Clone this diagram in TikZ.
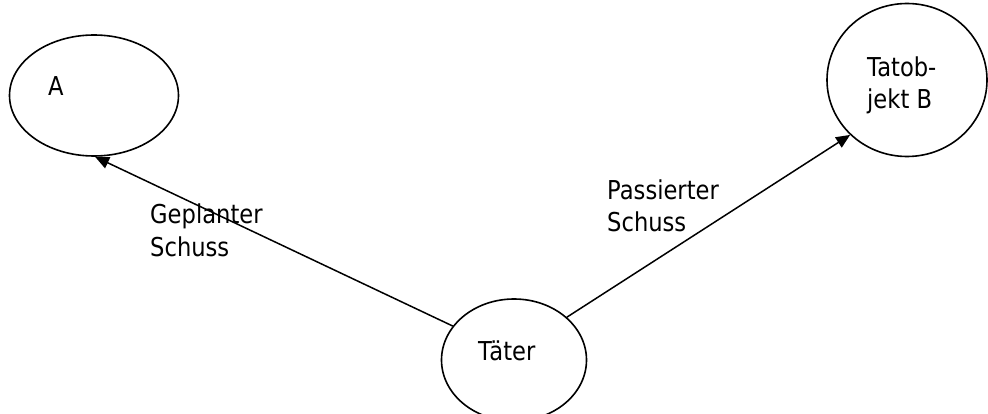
\documentclass[tikz,border=0pt]{standalone}
\usepackage{fontspec}
\setmainfont{DejaVu Sans}[FakeStretch=0.87]
\usetikzlibrary{shapes.geometric,arrows.meta}
\begin{document}
\begin{tikzpicture}[x=1pt,y=-1pt,
  blob/.style={draw,ellipse,line width=1.6pt,inner sep=0pt},
  txt/.style={inner sep=0pt,font=\fontsize{26}{32.5}\selectfont,align=left},
  conn/.style={line width=1.5pt,-{Triangle[length=14pt,width=12pt]}}]
\useasboundingbox (0,0) rectangle (988,414);
\node[blob,minimum width=169pt,minimum height=121pt] (A) at (94,95.5) {};
\node[blob,minimum width=160pt,minimum height=153pt] (B) at (907,80) {};
\node[blob,minimum width=145pt,minimum height=122pt] (T) at (514,360) {};
\node[txt,anchor=base west] (tA) at (48,96) {A};
\node[txt,anchor=base west] (tB) at (867,109) {Tatob-\\jekt B};
\node[txt,anchor=base west] (tT) at (478,360) {Täter};
\node[txt,anchor=base west] (lg) at (150,256.5) {Geplanter\\Schuss};
\node[txt,anchor=base west] (lp) at (607,232) {Passierter\\Schuss};
\draw[conn] (T.151) -- (A.-89);
\draw[conn] (T.39) -- (B.224);
\end{tikzpicture}
\end{document}
